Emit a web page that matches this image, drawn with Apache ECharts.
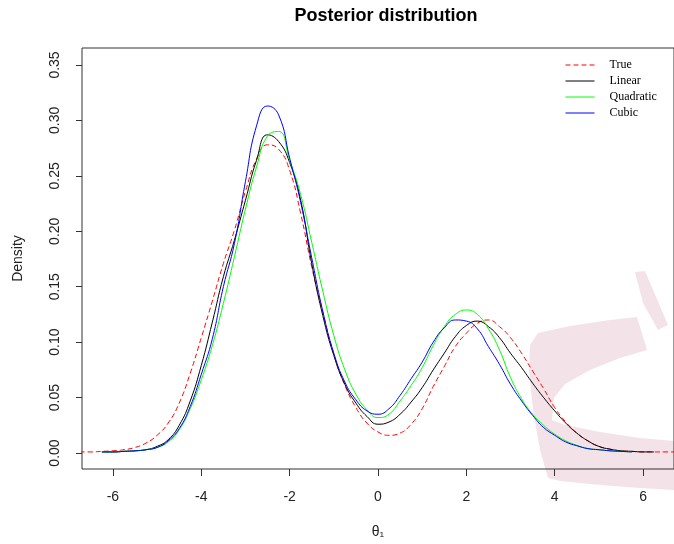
<!DOCTYPE html>
<html>
<head>
<meta charset="utf-8">
<script src="https://cdn.jsdelivr.net/npm/echarts@6/dist/echarts.min.js"></script>
<style>html,body{margin:0;padding:0;background:#fff}#c{width:674px;height:544px}</style>
</head>
<body>
<div id="c"></div>
<script>
const xs = [-6.75,-6.5,-6.25,-6,-5.75,-5.5,-5.25,-5,-4.75,-4.5,-4.25,-4,-3.75,-3.5,-3.25,-3,-2.75,-2.5,-2.25,-2,-1.75,-1.5,-1.25,-1,-0.75,-0.5,-0.25,0,0.25,0.5,0.75,1,1.25,1.5,1.75,2,2.25,2.5,2.75,3,3.25,3.5,3.75,4,4.25,4.5,4.75,5,5.25,5.5,5.75,6,6.25,6.5,6.75];
const trueY = [0.001,0.001,0.0015,0.002,0.003,0.005,0.009,0.016,0.027,0.045,0.072,0.104,0.137,0.171,0.201,0.236,0.265,0.278,0.274,0.255,0.216,0.168,0.127,0.089,0.061,0.041,0.027,0.019,0.016,0.018,0.026,0.040,0.060,0.078,0.096,0.108,0.117,0.120,0.114,0.104,0.090,0.074,0.058,0.041,0.028,0.018,0.011,0.006,0.0035,0.002,0.0015,0.001,0.001,0.001,0.001];
const linearY = [null,null,0.001,0.001,0.0015,0.002,0.003,0.006,0.012,0.025,0.047,0.079,0.118,0.159,0.192,0.228,0.264,0.287,0.281,0.262,0.228,0.171,0.124,0.088,0.062,0.045,0.033,0.026,0.028,0.035,0.046,0.059,0.075,0.090,0.105,0.115,0.119,0.114,0.104,0.090,0.077,0.063,0.050,0.038,0.027,0.018,0.011,0.006,0.0035,0.002,0.0015,0.001,0.001,null,null];
const quadY = [null,null,0.001,0.001,0.0015,0.002,0.003,0.005,0.010,0.021,0.040,0.066,0.097,0.135,0.177,0.220,0.258,0.286,0.290,0.264,0.233,0.190,0.146,0.106,0.075,0.053,0.039,0.032,0.035,0.047,0.061,0.077,0.097,0.114,0.125,0.129,0.125,0.112,0.093,0.068,0.049,0.035,0.025,0.017,0.011,0.007,0.004,0.003,0.002,0.0015,0.001,null,null,null,null];
const cubicY = [null,null,0.001,0.001,0.0015,0.002,0.003,0.005,0.011,0.022,0.042,0.071,0.103,0.150,0.189,0.245,0.295,0.313,0.305,0.266,0.226,0.176,0.128,0.090,0.064,0.048,0.038,0.035,0.040,0.052,0.067,0.082,0.100,0.113,0.120,0.119,0.112,0.096,0.080,0.062,0.047,0.034,0.023,0.016,0.010,0.0066,0.004,0.003,0.002,0.0015,0.001,null,null,null,null];
const seriesNames = ['True','Linear','Quadratic','Cubic'];
const xTicks = [-6,-4,-2,0,2,4,6];
const yTicks = [0,0.05,0.10,0.15,0.20,0.25,0.30,0.35];

function pairs(ys){ return xs.map((x,i)=>[x, ys[i]]); }
const pink = '#f3e3e8';
const chart = echarts.init(document.getElementById('c'), null, {renderer:'canvas'});
chart.setOption({
  animation:false,
  backgroundColor:'#fff',
  title:{text:'Posterior distribution', left:381, textAlign:'center', top:2,
    textStyle:{fontFamily:'Liberation Sans', fontSize:18, fontWeight:'bold', color:'#000'}},
  graphic:[
    {type:'polygon', z:-10, silent:true, shape:{points:[[637,317],[647,350],[620,358],[590,370],[565,384],[554,398],[552,420],[565,425],[600,432],[640,438],[674,441],[674,490],[640,488],[600,485],[560,481],[548,478],[540,450],[533,410],[529,370],[530,345],[538,333],[570,326],[610,320]]}, style:{fill:pink}},
    {type:'polygon', z:-10, silent:true, shape:{points:[[635,272],[645,271],[668,325],[658,330],[643,303]]}, style:{fill:pink}}
  ],
  legend:{orient:'vertical', left:565, top:59, padding:0, itemWidth:29, itemHeight:14, itemGap:4,
    itemStyle:{opacity:0}, lineStyle:{width:1},
    textStyle:{fontFamily:'Liberation Serif', fontSize:12, color:'#000', padding:[0,0,0,10]},
    data:seriesNames},
  grid:{left:82, right:-4, top:48, bottom:74, show:true, borderColor:'#333', borderWidth:1, backgroundColor:'transparent'},
  xAxis:{type:'value', min:-6.7, max:6.7,
    name:'θ₁', nameLocation:'middle', nameGap:56,
    nameTextStyle:{fontFamily:'Liberation Sans', fontSize:14, color:'#222'},
    axisLine:{show:false, onZero:false},
    axisTick:{show:true, length:7, lineStyle:{color:'#333'}, customValues:xTicks},
    axisLabel:{margin:21, fontFamily:'Liberation Sans', fontSize:14, color:'#222', customValues:xTicks, formatter:v=>String(v)},
    splitLine:{show:false}},
  yAxis:{type:'value', min:-0.0144, max:0.3653,
    name:'Density', nameLocation:'middle', nameGap:57, nameRotate:90,
    nameTextStyle:{fontFamily:'Liberation Sans', fontSize:14, color:'#222'},
    axisLine:{show:false, onZero:false},
    axisTick:{show:true, length:6, lineStyle:{color:'#333'}, customValues:yTicks},
    axisLabel:{rotate:90, margin:20, fontFamily:'Liberation Sans', fontSize:14, color:'#222', customValues:yTicks, formatter:v=>v.toFixed(2)},
    splitLine:{show:false}},
  series:[
    {name:'True', type:'line', data:pairs(trueY), smooth:true, symbol:'none', showSymbol:false,
      lineStyle:{color:'#ff0000', width:1, type:[5,3]}, itemStyle:{color:'#ff0000'}},
    {name:'Linear', type:'line', data:pairs(linearY), smooth:true, symbol:'none', showSymbol:false,
      lineStyle:{color:'#000000', width:1}, itemStyle:{color:'#000000'}},
    {name:'Quadratic', type:'line', data:pairs(quadY), smooth:true, symbol:'none', showSymbol:false,
      lineStyle:{color:'#00ff00', width:1}, itemStyle:{color:'#00ff00'}},
    {name:'Cubic', type:'line', data:pairs(cubicY), smooth:true, symbol:'none', showSymbol:false,
      lineStyle:{color:'#0000ff', width:1}, itemStyle:{color:'#0000ff'}}
  ]
});
</script>
</body>
</html>
